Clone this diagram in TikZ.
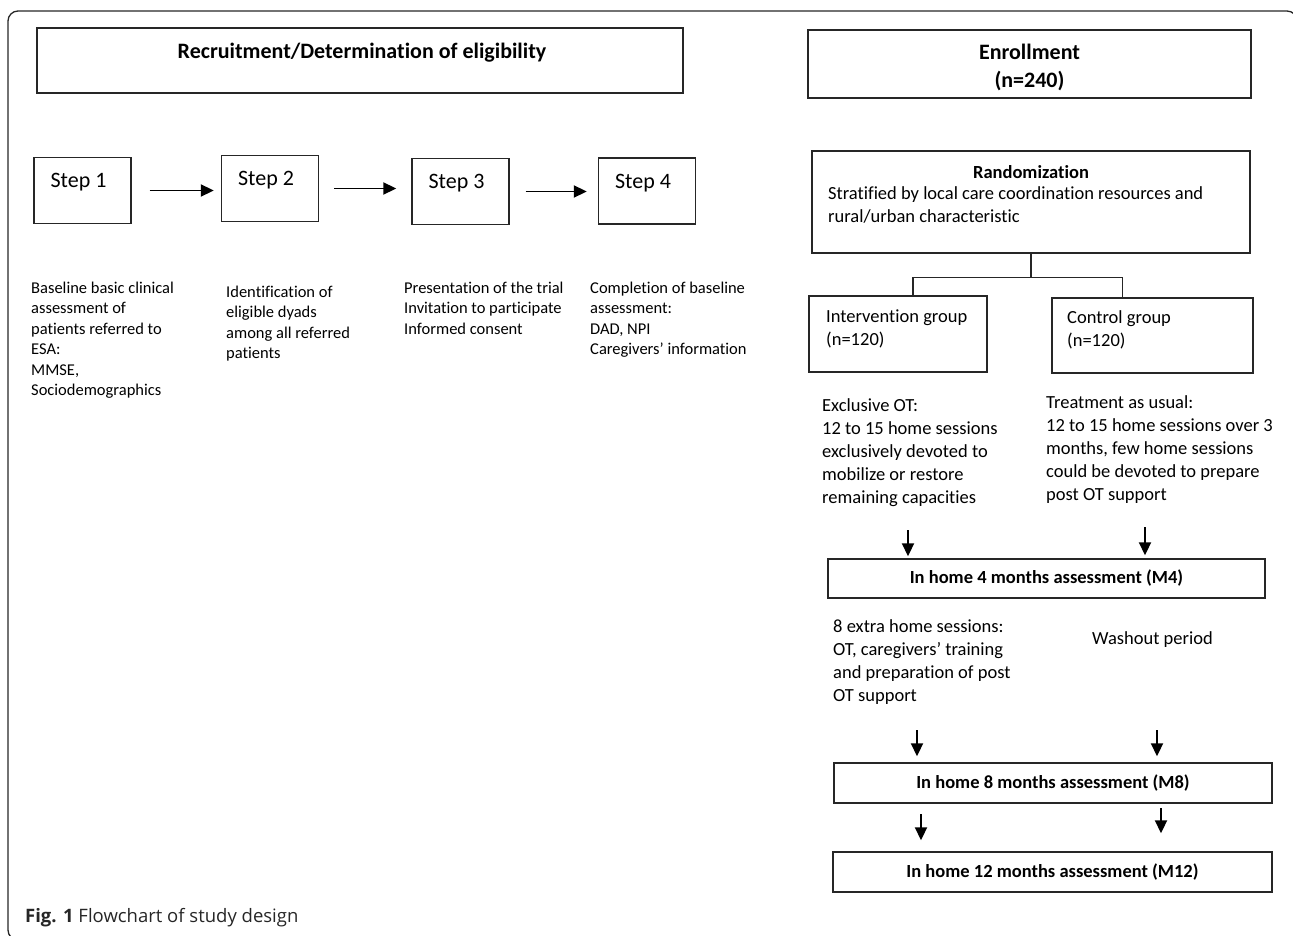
\documentclass[tikz,border=0pt]{standalone}
\usepackage{fontspec}
\setmainfont{Carlito}[Ligatures=NoCommon]
\newfontfamily\figcapfont{Open Sans}
\usetikzlibrary{arrows.meta}
\newcommand{\headfont}{\fontsize{22}{28}\selectfont\bfseries}
\newcommand{\stepfont}{\fontsize{22}{26}\selectfont}
\newcommand{\bodyfont}{\fontsize{18.5}{23}\selectfont}
\newcommand{\descfont}{\fontsize{16.5}{20.5}\selectfont}

\tikzset{
  box/.style={draw=black!85, line width=1.4pt, inner sep=0pt},
  stepbox/.style={box, minimum width=97pt, minimum height=66pt},
  arr/.style={-{Triangle[length=13pt,width=12pt]}, line width=1.9pt},
  txt/.style={anchor=north west, align=left, inner sep=0pt},
}

\begin{document}
\begin{tikzpicture}[x=1pt,y=-1pt]
\useasboundingbox (0,0) rectangle (1293,936);
\clip (0,0) rectangle (1293,936);
\draw[rounded corners=10pt, line width=1.3pt, black!85] (8,11) rectangle (1297,940);

% recruitment side
\node[box, minimum width=646pt, minimum height=65pt] (recr) at (360,60.5) {};
\node[font=\headfont] (recrlbl) at (362,53) {Recruitment/Determination of eligibility};

\foreach \n/\cx/\cy in {1/82.5/190.5, 2/270/188.5, 3/460.5/191.5, 4/647/191}{
  \node[stepbox] (s\n) at (\cx,\cy) {};
  \node[font=\stepfont] (s\n-lbl) at ([shift={(-4,-8)}]s\n.center) {Step \n};
}
\foreach \a/\b/\p/\q in {1/2/18/7, 2/3/15/15, 3/4/16/11}
  \draw[arr, shorten <=\p pt, shorten >=\q pt] (s\a.east) -- (s\a.east -| s\b.west);

\node[txt, font=\descfont] (d1) at (31,281.5) {Baseline basic clinical\\assessment of\\patients referred to\\ESA:\\MMSE,\\Sociodemographics};
\node[txt, font=\descfont] (d2) at (226,285.5) {Identification of\\eligible dyads\\among all referred\\patients};
\node[txt, font=\descfont] (d3) at (404,281.5) {Presentation of the trial\\Invitation to participate\\Informed consent};
\node[txt, font=\descfont] (d4) at (590,281.5) {Completion of baseline\\assessment:\\DAD, NPI\\Caregivers’ information};

% trial side
\node[box, minimum width=443pt, minimum height=68pt] (enrol) at (1029.5,64) {};
\node[align=center, font=\headfont] (enrollbl) at (1029.5,67.5) {Enrollment\\(n=240)};

\node[box, minimum width=438pt, minimum height=102pt] (rand) at (1031,202) {};
\node[font=\bodyfont\bfseries] (randlbl) at (1031,172) {Randomization};
\node[txt, font=\bodyfont] (strat) at (828,186.6) {Stratified by local care coordination resources and\\rural/urban characteristic};

\node[box, minimum width=178pt, minimum height=76pt] (intgrp) at (898,334) {};
\node[txt, font=\bodyfont] (intlbl) at (826,309.6) {Intervention group\\(n=120)};
\node[box, minimum width=201pt, minimum height=75pt] (ctlgrp) at (1152.5,335.5) {};
\node[txt, font=\bodyfont] (ctllbl) at (1067,310.6) {Control group\\(n=120)};

\draw[line width=1.1pt, black!85] (rand.south) -- ++(0,24) coordinate (fork);
\draw[line width=1.1pt, black!85] ([xshift=15pt]intgrp.north) |- (fork) -| ([xshift=-30pt]ctlgrp.north);

\node[txt, font=\bodyfont] (intot) at (822,398.6) {Exclusive OT:\\12 to 15 home sessions\\exclusively devoted to\\mobilize or restore\\remaining capacities};
\node[txt, font=\bodyfont] (ctlot) at (1046,395.6) {Treatment as usual:\\12 to 15 home sessions over 3\\months, few home sessions\\could be devoted to prepare\\post OT support};

\node[box, minimum width=437pt, minimum height=39pt, font=\bodyfont\bfseries] (m4) at (1046.5,578.5) {In home 4 months assessment (M4)};
\coordinate (a1) at (908,530);
\coordinate (a2) at (1145,527);
\draw[arr, shorten >=2pt] (a1) -- (a1 |- m4.north);
\draw[arr, shorten >=3pt] (a2) -- (a2 |- m4.north);

\node[txt, font=\bodyfont] (extra) at (833,619.6) {8 extra home sessions:\\OT, caregivers’ training\\and preparation of post\\OT support};
\node[anchor=west, inner sep=0pt, font=\bodyfont] (wash) at (1092,640) {Washout period};

\node[box, minimum width=438pt, minimum height=40pt, font=\bodyfont\bfseries] (m8) at (1053,783) {In home 8 months assessment (M8)};
\coordinate (a3) at (917,730);
\coordinate (a4) at (1157,730);
\draw[arr, shorten >=6pt] (a3) -- (a3 |- m8.north);
\draw[arr, shorten >=6pt] (a4) -- (a4 |- m8.north);

\node[box, minimum width=439pt, minimum height=40pt, font=\bodyfont\bfseries] (m12) at (1052.5,872) {In home 12 months assessment (M12)};
\coordinate (a5) at (921,814);
\coordinate (a6) at (1161,808);
\draw[arr, shorten >=11pt] (a5) -- (a5 |- m12.north);
\draw[arr, shorten >=18pt] (a6) -- (a6 |- m12.north);

\node[anchor=west, inner sep=0pt, font=\figcapfont\fontsize{18.5}{22}\selectfont, black!85] (cap) at (25,918) {\textbf{Fig. 1} Flowchart of study design};
\end{tikzpicture}
\end{document}
